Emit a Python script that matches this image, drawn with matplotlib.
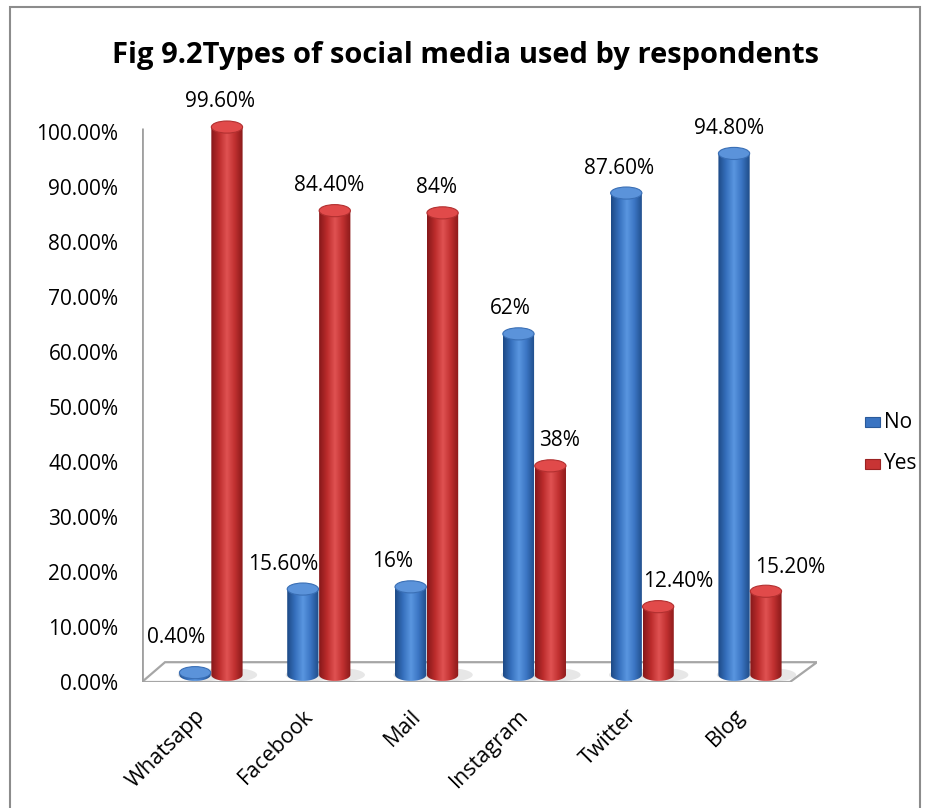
import numpy as np
import matplotlib as mpl
mpl.use('Agg')
import matplotlib.pyplot as plt
from matplotlib.patches import Ellipse, Polygon, Rectangle, PathPatch
from matplotlib.path import Path
from matplotlib.colors import LinearSegmentedColormap

plt.rcParams['font.family'] = ['Open Sans', 'DejaVu Sans']

categories = ['Whatsapp', 'Facebook', 'Mail', 'Instagram', 'Twitter', 'Blog']
no_vals = [0.4, 15.6, 16, 62, 87.6, 94.8]
yes_vals = [99.6, 84.4, 84, 38, 12.4, 15.2]
no_labels = ['0.40%', '15.60%', '16%', '62%', '87.60%', '94.80%']
yes_labels = ['99.60%', '84.40%', '84%', '38%', '12.40%', '15.20%']
yticks = np.arange(0, 101, 10)

# label nudges in pixels (excel pushes overlapping labels sideways)
no_dx = [-19, -20, -18, -8, -7, -5]
yes_dx = [-7, -6, -6, 9, 20, 24]
no_dy = [35, 25, 25, 25, 25, 25]
yes_dy = [26, 25, 25, 25, 25, 24]

W, H = 932, 808
PXX = 107.8           # px per category unit
PXY = 5.5             # px per percent
X0 = 211              # px of first category
base = 1.3            # bars stand a bit behind the front edge of the floor
YTOP = 105

fig = plt.figure(figsize=(W / 100, H / 100), dpi=100)
ax = fig.add_axes([142 / W, 1 - 682 / H, (817 - 142) / W, YTOP * PXY / H])

xl = (142 - X0) / PXX
xr = (817 - X0) / PXX

# floor
floor = Polygon([(xl, 0), ((790 - X0) / PXX, 0), (xr, 3.6), ((165 - X0) / PXX, 3.6)],
                closed=True, facecolor='white', edgecolor='#a6a6a6', lw=1.6, zorder=1)
ax.add_patch(floor)
ax.plot([xl, xl], [0, 100.7], color='#a0a0a0', lw=2, zorder=1, solid_capstyle='butt')

blue_cm = LinearSegmentedColormap.from_list('b', ['#1d4a86', '#3670bd', '#5a96e0', '#3a74c2', '#1f4c88'])
red_cm = LinearSegmentedColormap.from_list('r', ['#86181a', '#bc2c2c', '#e05252', '#c03030', '#8a1a1a'])
grad = np.linspace(0, 1, 64).reshape(1, -1)

w = 0.145
h = 1.1


def cylinder(xc, v, cmap, cap, capedge):
    top = base + v
    # soft shadow on floor
    ax.add_patch(Ellipse((xc + 0.06, base), 0.44, 2.4, color='#b0b0b0', alpha=0.3, lw=0, zorder=2))
    th = np.linspace(np.pi, 2 * np.pi, 40)
    verts = [(xc - w, top)] + [(xc + w * np.cos(t), base + h * np.sin(t)) for t in th] + [(xc + w, top), (xc - w, top)]
    path = Path(verts, [Path.MOVETO] + [Path.LINETO] * (len(verts) - 2) + [Path.CLOSEPOLY])
    body = PathPatch(path, facecolor='none', edgecolor='none', zorder=3)
    ax.add_patch(body)
    im = ax.imshow(grad, cmap=cmap, extent=(xc - w, xc + w, base - h, top), aspect='auto', zorder=3)
    im.set_clip_path(body)
    ax.add_patch(Ellipse((xc, top), 2 * w, 2 * h, facecolor=cap, edgecolor=capedge, lw=0.8, zorder=4))


for i in range(len(categories)):
    xn = i - 0.148
    xy = i + 0.148
    cylinder(xn, no_vals[i], blue_cm, '#5b93da', '#3a6fb5')
    cylinder(xy, yes_vals[i], red_cm, '#e14a4a', '#b23030')
    ax.text(xn + no_dx[i] / PXX, base + no_vals[i] + no_dy[i] / PXY, no_labels[i],
            ha='center', va='center', fontsize=15, color='black', zorder=5)
    ax.text(xy + yes_dx[i] / PXX, base + yes_vals[i] + yes_dy[i] / PXY, yes_labels[i],
            ha='center', va='center', fontsize=15, color='black', zorder=5)
    ax.text(i - 0.08, -5.6, categories[i], rotation=45, rotation_mode='anchor',
            ha='right', va='center', fontsize=15.5, color='black', clip_on=False)

ax.set_xlim(xl, xr)
ax.set_ylim(0, YTOP)
ax.set_yticks(yticks)
ax.set_yticklabels(['%.2f%%' % v for v in yticks], fontsize=15)
ax.tick_params(axis='y', length=0, pad=17)
ax.set_xticks([])
for s in ax.spines.values():
    s.set_visible(False)
ax.patch.set_alpha(0)

fig.text(466 / W, 1 - 56 / H, 'Fig 9.2Types of social media used by respondents',
         ha='center', va='center', fontsize=21, fontweight='bold')

# legend
fig.patches.append(Rectangle((865 / W, 1 - 427 / H), 15 / W, 10 / H, transform=fig.transFigure,
                             facecolor='#3a74c2', edgecolor='#2a5a9a', lw=0.8))
fig.patches.append(Rectangle((865 / W, 1 - 469 / H), 15 / W, 10 / H, transform=fig.transFigure,
                             facecolor='#c83434', edgecolor='#9a2222', lw=0.8))
fig.text(884 / W, 1 - 422 / H, 'No', ha='left', va='center', fontsize=15)
fig.text(884 / W, 1 - 464 / H, 'Yes', ha='left', va='center', fontsize=15)

# chart border
fig.patches.append(Rectangle((10 / W, -0.02), 910 / W, 1 - 7 / H + 0.02, transform=fig.transFigure,
                             facecolor='none', edgecolor='#8c8c8c', lw=1.5))

fig.savefig('out.png', dpi=100)
